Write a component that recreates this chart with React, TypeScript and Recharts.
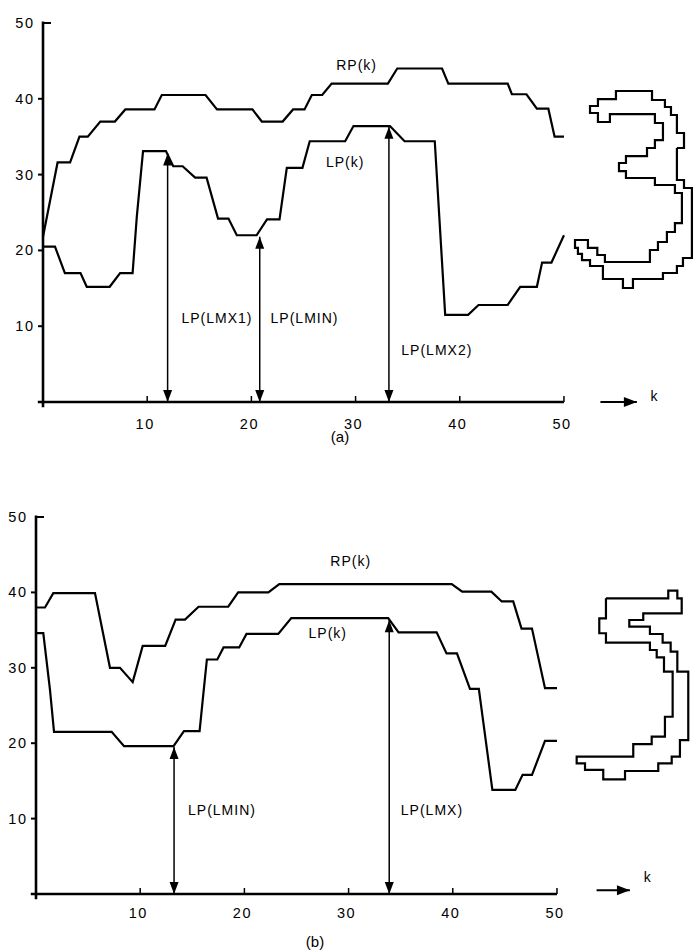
import React from 'react';
import { ComposedChart, Line, Scatter, XAxis, YAxis, ReferenceLine } from 'recharts';

// ---------- shared ticks ----------
const kTicks = [10, 20, 30, 40, 50];
const vTicks = [10, 20, 30, 40, 50];

// ---------- panel (a) ----------
const kRpA = [0, 1.4, 2.6, 3.5, 4.3, 5.5, 6.9, 7.9, 10.7, 11.4, 15.6, 16.7, 20.1, 21, 23, 24, 25.1, 25.8, 26.8, 27.7, 33.1, 34, 38.3, 38.9, 44.6, 45, 46.4, 47.4, 48.5, 49.1, 50];
const vRpA = [21.8, 31.6, 31.6, 35, 35, 37, 37, 38.6, 38.6, 40.5, 40.5, 38.6, 38.6, 37, 37, 38.6, 38.6, 40.5, 40.5, 42, 42, 44, 44, 42, 42, 40.6, 40.6, 38.7, 38.7, 35, 35];
const kLpA = [0, 1.15, 2.1, 3.6, 4.2, 6.4, 7.4, 8.6, 9.0, 9.6, 11.8, 12.5, 13.4, 14.6, 15.7, 16.8, 17.8, 18.6, 20.5, 21.5, 22.7, 23.4, 24.9, 25.6, 29, 29.8, 33.3, 34.7, 37.6, 38.6, 40.8, 41.8, 44.6, 45.8, 47.4, 47.9, 48.8, 50];
const vLpA = [20.5, 20.5, 17, 17, 15.2, 15.2, 17, 17, 24.4, 33.1, 33.1, 31.1, 31.1, 29.6, 29.6, 24.2, 24.2, 22, 22, 24.1, 24.1, 30.9, 30.9, 34.4, 34.4, 36.4, 36.4, 34.4, 34.4, 11.5, 11.5, 12.8, 12.8, 15.2, 15.2, 18.4, 18.4, 22];
const arrowKA = [11.96, 20.8, 33.2];
const arrowTopA = [32.8, 21.8, 36.3];
const labelTextA = ['RP(k)', 'LP(k)', 'LP(LMX1)', 'LP(LMIN)', 'LP(LMX2)'];
const labelKA = [30.1, 29.0, 16.7, 25.1, 37.8];
const labelVA = [44.5, 31.7, 11.1, 11.1, 6.9];
const digit3K = [60.84, 60.84, 61.52, 61.52, 62.28, 62.28, 61.42, 61.42, 60.84, 60.84, 59.5, 59.5, 56.62, 56.62, 55.66, 55.66, 53.74, 53.74, 52.5, 52.5, 51.73, 51.73, 51.34, 51.34, 51.06, 51.06, 52.3, 52.3, 53.2, 53.2, 53.93, 53.93, 58.25, 58.25, 59.02, 59.02, 59.88, 59.88, 60.65, 60.65, 61.32, 61.32, 60.65, 60.65, 58.73, 58.73, 55.95, 55.95, 55.28, 55.28, 55.95, 55.95, 57.97, 57.97, 58.73, 58.73, 59.5, 59.5, 58.73, 58.73, 54.41, 54.41, 53.26, 53.26, 52.5, 52.5, 53.26, 53.26, 54.99, 54.99, 58.45, 58.45, 59.69, 59.69, 60.27, 60.27, 60.84, 60.84, 61.52, 61.52, 60.84];
const digit3V = [33.51, 29.29, 29.29, 28.23, 28.23, 19.0, 19.0, 17.94, 17.94, 17.02, 17.02, 16.23, 16.23, 15.04, 15.04, 16.23, 16.23, 17.94, 17.94, 18.73, 18.73, 19.53, 19.53, 20.32, 20.32, 21.37, 21.37, 20.32, 20.32, 19.39, 19.39, 18.47, 18.47, 20.05, 20.05, 21.11, 21.11, 22.43, 22.43, 23.61, 23.61, 27.57, 27.57, 28.63, 28.63, 29.55, 29.55, 30.47, 30.47, 31.53, 31.53, 32.45, 32.45, 33.51, 33.51, 34.56, 34.56, 36.81, 36.81, 37.99, 37.99, 36.94, 36.94, 38.13, 38.13, 39.05, 39.05, 39.97, 39.97, 41.03, 41.03, 39.84, 39.84, 38.92, 38.92, 37.86, 37.86, 35.49, 35.49, 33.51, 33.51];

// ---------- panel (b) ----------
const kRpB = [0, 0.86, 1.66, 5.66, 7.1, 8.06, 9.28, 10.24, 12.4, 13.4, 14.3, 15.6, 18.45, 19.4, 22.3, 23.35, 39.9, 40.9, 43.7, 44.7, 45.8, 46.6, 47.6, 48.85, 50];
const vRpB = [38, 38, 39.9, 39.9, 30, 30, 28.1, 32.9, 32.9, 36.4, 36.4, 38.1, 38.1, 40, 40, 41.1, 41.1, 40.1, 40.1, 38.8, 38.8, 35.2, 35.2, 27.3, 27.3];
const kLpB = [0, 0.7, 1.34, 1.73, 7.26, 8.45, 13.2, 14.2, 15.7, 16.0, 16.4, 17.4, 18.0, 19.5, 20.2, 23.25, 24.5, 33.8, 34.8, 38.45, 39.4, 40.4, 41.65, 42.5, 43.8, 46.0, 46.7, 47.6, 48.85, 50];
const vLpB = [34.6, 34.6, 27.1, 21.5, 21.5, 19.6, 19.6, 21.6, 21.6, 25.7, 31.1, 31.1, 32.7, 32.7, 34.5, 34.5, 36.6, 36.6, 34.7, 34.7, 31.9, 31.9, 27.2, 27.2, 13.8, 13.8, 15.8, 15.8, 20.3, 20.3];
const arrowKB = [13.25, 33.9];
const arrowTopB = [19.5, 36.3];
const labelTextB = ['RP(k)', 'LP(k)', 'LP(LMIN)', 'LP(LMX)'];
const labelKB = [30.2, 28.0, 17.85, 38.0];
const labelVB = [44.2, 34.6, 11.1, 11.1];
const digit5K = [54.70, 60.68, 60.68, 61.55, 61.55, 61.97, 61.97, 58.28, 58.28, 56.94, 56.94, 58.92, 58.92, 60.14, 60.14, 60.91, 60.91, 61.55, 61.55, 62.60, 62.60, 61.80, 61.80, 61.01, 61.01, 59.72, 59.72, 56.53, 56.53, 54.44, 54.44, 52.69, 52.69, 51.89, 51.89, 57.32, 57.32, 59.09, 59.09, 60.36, 60.36, 61.10, 61.10, 60.27, 60.27, 59.57, 59.57, 58.92, 58.92, 54.70, 54.70, 54.06, 54.06, 54.70, 54.70];
const digit5V = [39.22, 39.22, 40.23, 40.23, 39.22, 39.22, 37.23, 37.23, 36.34, 36.34, 35.45, 35.45, 34.48, 34.48, 33.33, 33.33, 32.14, 32.14, 29.48, 29.48, 20.42, 20.42, 18.21, 18.21, 17.33, 17.33, 16.31, 16.31, 15.21, 15.21, 16.45, 16.45, 17.33, 17.33, 18.21, 18.21, 19.89, 19.89, 20.86, 20.86, 23.51, 23.51, 29.48, 29.48, 31.39, 31.39, 32.36, 32.36, 33.33, 33.33, 34.58, 34.58, 36.56, 36.56, 39.22];

// k-direction arrow under each panel
const kArrowA = [53.5, 57.0];
const kArrowB = [53.8, 57.0];
const kArrowVA = 0;
const kArrowVB = 0.5;
const kLetterA = [58.7, 0.8];
const kLetterB = [58.7, 2.2];

const zip = (ks: number[], vs: number[]) => ks.map((k, i) => ({ k, v: vs[i] }));

const FONT = '"Liberation Sans", Arial, Helvetica, sans-serif';

const YTick = (p: any) => {
  const { x, y, payload } = p;
  const isTop = payload.value === 50;
  return (
    <g>
      {isTop ? (
        <line x1={x} x2={x + 8} y1={y} y2={y} stroke="#000" strokeWidth={2} />
      ) : (
        <line x1={x - 5} x2={x} y1={y} y2={y} stroke="#000" strokeWidth={2} />
      )}
      <text x={x - 8.5} y={y} textAnchor="end" dominantBaseline="central" fontSize={14.5} letterSpacing={1.5} fontFamily={FONT} fill="#000">
        {payload.value}
      </text>
    </g>
  );
};

const makeXTick = (dy: number) => (p: any) => {
  const { x, y, payload } = p;
  return (
    <g>
      <line x1={x} x2={x} y1={y} y2={y - 6} stroke="#000" strokeWidth={1.5} />
      <text x={x - 2} y={y + dy} textAnchor="middle" dominantBaseline="central" fontSize={14.5} letterSpacing={1.5} fontFamily={FONT} fill="#000">
        {payload.value}
      </text>
    </g>
  );
};

const upHead = (p: any) => (
  <path d={`M${p.cx},${p.cy} L${p.cx - 4.5},${p.cy + 12} L${p.cx + 4.5},${p.cy + 12} Z`} fill="#000" />
);
const downHead = (p: any) => (
  <path d={`M${p.cx},${p.cy} L${p.cx - 4.5},${p.cy - 12} L${p.cx + 4.5},${p.cy - 12} Z`} fill="#000" />
);
const rightHead = (p: any) => (
  <path d={`M${p.cx},${p.cy} L${p.cx - 13},${p.cy - 5} L${p.cx - 13},${p.cy + 5} Z`} fill="#000" />
);
const textShape = (p: any) => (
  <text x={p.cx} y={p.cy} textAnchor="middle" dominantBaseline="central" fontSize={14} letterSpacing={1} fontFamily={FONT} fill="#000">
    {p.payload.text}
  </text>
);

type PanelProps = {
  rp: { k: number; v: number }[];
  lp: { k: number; v: number }[];
  digit: { k: number; v: number }[];
  arrowK: number[];
  arrowTop: number[];
  labels: { k: number; v: number; text: string }[];
  kArrow: number[];
  kArrowV: number;
  kLetter: number[];
  xMax: number;
  height: number;
  marginTop: number;
  yAxisWidth: number;
  xAxisHeight: number;
  tickDy: number;
};

const Panel = (P: PanelProps) => {
  const lineProps = { type: 'linear' as const, dataKey: 'v', stroke: '#000', dot: false, activeDot: false, isAnimationActive: false };
  const XTick = makeXTick(P.tickDy);
  return (
    <ComposedChart width={694} height={P.height} margin={{ top: P.marginTop, right: 0, bottom: 0, left: 0 }}>
      <XAxis
        type="number"
        dataKey="k"
        domain={[0, P.xMax]}
        ticks={kTicks}
        axisLine={false}
        tickLine={false}
        tickSize={0}
        tickMargin={0}
        height={P.xAxisHeight}
        tick={<XTick />}
        interval={0}
      />
      <YAxis
        type="number"
        dataKey="v"
        domain={[0, 50]}
        ticks={vTicks}
        axisLine={false}
        tickLine={false}
        tickSize={0}
        tickMargin={0}
        width={P.yAxisWidth}
        tick={<YTick />}
        interval={0}
      />
      <ReferenceLine segment={[{ x: 0, y: -0.7 }, { x: 0, y: 50.2 }]} stroke="#000" strokeWidth={2.6} ifOverflow="visible" />
      <ReferenceLine segment={[{ x: -0.5, y: 0 }, { x: 50, y: 0 }]} stroke="#000" strokeWidth={2.6} ifOverflow="visible" />
      <Line {...lineProps} data={P.rp} strokeWidth={2.2} />
      <Line {...lineProps} data={P.lp} strokeWidth={2.2} />
      <Line {...lineProps} data={P.digit} strokeWidth={2.2} />
      {P.arrowK.map((k, i) => (
        <Line key={'ar' + i} {...lineProps} data={[{ k, v: 0 }, { k, v: P.arrowTop[i] }]} strokeWidth={1.5} />
      ))}
      <Scatter data={P.arrowK.map((k, i) => ({ k, v: P.arrowTop[i] }))} dataKey="v" shape={upHead} isAnimationActive={false} />
      <Scatter data={P.arrowK.map((k) => ({ k, v: 0 }))} dataKey="v" shape={downHead} isAnimationActive={false} />
      <Line {...lineProps} data={P.kArrow.map((k) => ({ k, v: P.kArrowV }))} strokeWidth={2} />
      <Scatter data={[{ k: P.kArrow[1], v: P.kArrowV }]} dataKey="v" shape={rightHead} isAnimationActive={false} />
      <Scatter data={P.labels} dataKey="v" shape={textShape} isAnimationActive={false} />
      <Scatter data={[{ k: P.kLetter[0], v: P.kLetter[1], text: 'k' }]} dataKey="v" shape={textShape} isAnimationActive={false} />
    </ComposedChart>
  );
};

export default function App() {
  const labelsA = labelTextA.map((text, i) => ({ k: labelKA[i], v: labelVA[i], text }));
  const labelsB = labelTextB.map((text, i) => ({ k: labelKB[i], v: labelVB[i], text }));
  return (
    <div style={{ position: 'absolute', left: 0, top: 0, width: 694, height: 950, background: '#fff', overflow: 'hidden', fontFamily: FONT }}>
      <div style={{ position: 'absolute', left: 0, top: 0 }}>
        <Panel
          rp={zip(kRpA, vRpA)}
          lp={zip(kLpA, vLpA)}
          digit={zip(digit3K, digit3V)}
          arrowK={arrowKA}
          arrowTop={arrowTopA}
          labels={labelsA}
          kArrow={kArrowA}
          kArrowV={kArrowVA}
          kLetter={kLetterA}
          xMax={62.48}
          height={460}
          marginTop={23}
          yAxisWidth={43}
          xAxisHeight={58}
          tickDy={22}
        />
      </div>
      <div style={{ position: 'absolute', left: 340, top: 436, transform: 'translate(-50%, -50%)', fontSize: 15 }}>(a)</div>
      <div style={{ position: 'absolute', left: 0, top: 470 }}>
        <Panel
          rp={zip(kRpB, vRpB)}
          lp={zip(kLpB, vLpB)}
          digit={zip(digit5K, digit5V)}
          arrowK={arrowKB}
          arrowTop={arrowTopB}
          labels={labelsB}
          kArrow={kArrowB}
          kArrowV={kArrowVB}
          kLetter={kLetterB}
          xMax={63.15}
          height={480}
          marginTop={47}
          yAxisWidth={36}
          xAxisHeight={56}
          tickDy={19}
        />
      </div>
      <div style={{ position: 'absolute', left: 315, top: 941, transform: 'translate(-50%, -50%)', fontSize: 15 }}>(b)</div>
    </div>
  );
}
